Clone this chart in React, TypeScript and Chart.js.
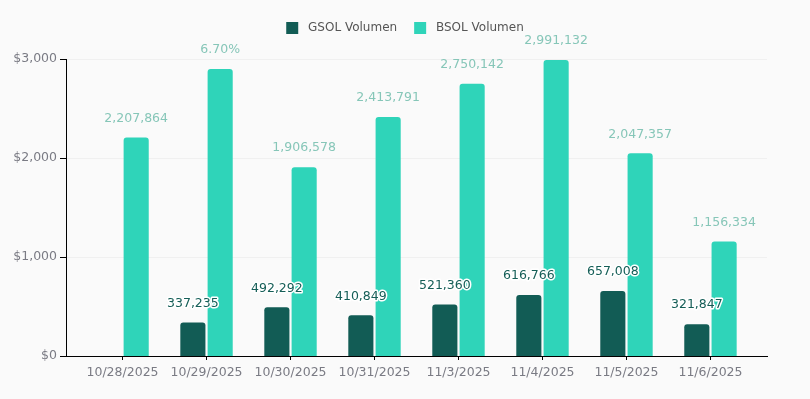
import React, { useEffect, useRef } from "react";
import { Chart, registerables } from "chart.js";

Chart.register(...registerables);

const categories = ["10/28/2025", "10/29/2025", "10/30/2025", "10/31/2025", "11/3/2025", "11/4/2025", "11/5/2025", "11/6/2025"];
const gsolValues: (number | null)[] = [null, 337.235, 492.292, 410.849, 521.36, 616.766, 657.008, 321.847];
const bsolValues: number[] = [2207.864, 2900, 1906.578, 2413.791, 2750.142, 2991.132, 2047.357, 1156.334];
const gsolLabels = ["", "337,235", "492,292", "410,849", "521,360", "616,766", "657,008", "321,847"];
const bsolLabels = ["2,207,864", "6.70%", "1,906,578", "2,413,791", "2,750,142", "2,991,132", "2,047,357", "1,156,334"];
const yTicks = [0, 1000, 2000, 3000];

const GSOL_COLOR = "#125c55";
const BSOL_COLOR = "#2fd4b9";
const FONT = '"DejaVu Sans", Verdana, sans-serif';

const valueLabels = {
  id: "valueLabels",
  afterDatasetsDraw(chart: any) {
    const ctx = chart.ctx;
    ctx.save();
    ctx.font = `12.5px ${FONT}`;
    ctx.textAlign = "center";
    ctx.textBaseline = "middle";
    const m1 = chart.getDatasetMeta(1);
    m1.data.forEach((el: any, i: number) => {
      const t = bsolLabels[i];
      if (!t) return;
      ctx.fillStyle = "#86c6b8";
      ctx.fillText(t, el.x, el.y - 19);
    });
    const m0 = chart.getDatasetMeta(0);
    m0.data.forEach((el: any, i: number) => {
      const t = gsolLabels[i];
      if (!t || gsolValues[i] == null) return;
      ctx.lineWidth = 3;
      ctx.lineJoin = "round";
      ctx.strokeStyle = "#ffffff";
      ctx.strokeText(t, el.x, el.y - 19);
      ctx.fillStyle = "#155e57";
      ctx.fillText(t, el.x, el.y - 19);
    });
    ctx.restore();
  },
};

export default function App() {
  const ref = useRef<HTMLCanvasElement | null>(null);
  useEffect(() => {
    if (!ref.current) return;
    const chart = new Chart(ref.current, {
      type: "bar",
      data: {
        datasets: [
          {
            label: "GSOL Volumen",
            data: gsolValues.map((v, i) => ({ x: i, y: v })) as any,
            backgroundColor: GSOL_COLOR,
            borderRadius: 3,
            categoryPercentage: 0.65,
            barPercentage: 0.92,
          },
          {
            label: "BSOL Volumen",
            data: bsolValues.map((v, i) => ({ x: i, y: v })) as any,
            backgroundColor: BSOL_COLOR,
            borderRadius: 3,
            categoryPercentage: 0.65,
            barPercentage: 0.92,
          },
        ],
      },
      options: {
        animation: false,
        responsive: true,
        maintainAspectRatio: false,
        layout: { padding: { top: 5, right: 0, left: 0, bottom: 0 } },
        plugins: {
          legend: {
            position: "top",
            labels: {
              boxWidth: 12,
              boxHeight: 12,
              padding: 17,
              color: "#555",
              font: { family: FONT, size: 12 },
              generateLabels: (chart: any) =>
                Chart.defaults.plugins.legend.labels.generateLabels(chart).map((item: any) => ({
                  ...item,
                  text: " " + item.text,
                })),
            },
          },
          tooltip: { enabled: false },
        },
        scales: {
          x: {
            type: "linear",
            offset: false,
            min: -0.673,
            max: 7.673,
            afterBuildTicks: (scale: any) => {
              scale.ticks = categories.map((_, i) => ({ value: i }));
            },
            afterFit: (scale: any) => {
              scale.height = 43;
            },
            ticks: {
              callback: (v: any) => categories[v] ?? "",
              color: "#7a7b84",
              font: { family: FONT, size: 12.5 },
              padding: 5,
              maxRotation: 0,
              autoSkip: false,
            },
            grid: { offset: false, drawOnChartArea: false, drawTicks: true, tickLength: 4, tickColor: "#000" },
            border: { color: "#000", width: 1 },
          },
          pad: {
            type: "linear",
            axis: "x",
            position: "top",
            display: true,
            afterFit: (scale: any) => {
              scale.height = 15;
            },
            ticks: { display: false },
            grid: { display: false },
            border: { display: false },
          },
          padR: {
            type: "linear",
            axis: "y",
            position: "right",
            display: true,
            afterFit: (scale: any) => {
              scale.width = 43;
            },
            ticks: { display: false },
            grid: { display: false },
            border: { display: false },
          },
          y: {
            min: 0,
            max: 3000,
            afterBuildTicks: (scale: any) => {
              scale.ticks = yTicks.map((v) => ({ value: v }));
            },
            afterFit: (scale: any) => {
              scale.width = 66;
            },
            ticks: {
              callback: (v: any) => "$" + Number(v).toLocaleString("en-US"),
              color: "#7a7b84",
              font: { family: FONT, size: 12.5 },
              padding: 3,
            },
            grid: { color: "#f0f0f0", tickColor: "#000", tickLength: 6 },
            border: { color: "#000", width: 1 },
          },
        },
      } as any,
      plugins: [valueLabels],
    });
    return () => chart.destroy();
  }, []);
  return (
    <div style={{ position: "fixed", left: 0, top: 0, width: 810, height: 399, background: "#fafafa" }}>
      <canvas ref={ref} />
    </div>
  );
}
